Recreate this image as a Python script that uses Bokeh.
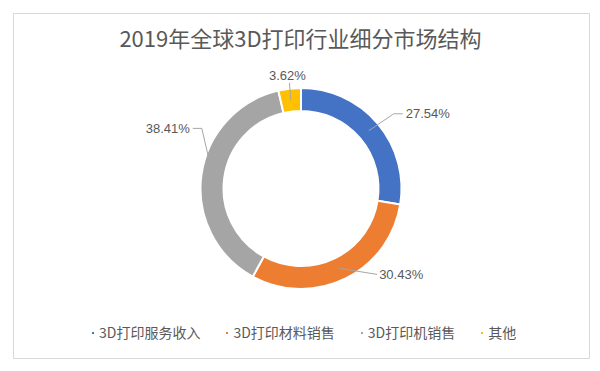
import numpy as np
from bokeh.plotting import figure
from bokeh.models import ColumnDataSource, Range1d, Legend, LegendItem
from bokeh.core.properties import value
from bokeh.embed import file_html
from bokeh.resources import INLINE

# ---------------- data ----------------
categories = ["3D打印服务收入", "3D打印材料销售", "3D打印机销售", "其他"]
shares = [27.54, 30.43, 38.41, 3.62]
colors = ["#4472C4", "#ED7D31", "#A5A5A5", "#FFC000"]
title_text = "2019年全球3D打印行业细分市场结构"

# ---------------- layout (pixels, y measured downward from page top) ----------------
W, H = 592, 363
def Y(py):                   # page pixel y -> data y (upward)
    return H - py

CX, CY = 300.5, 188.0
R_OUT, R_IN = 100.5, 77.5
R_ANCHOR = 89.0
# leader/label offsets from anchor: (elbow, end, text, align)
label_layout = [
    ((25, -17), (34, -17), (37, -17), "left", "middle"),
    ((37, 6), (37, 6), (39, 6), "left", "middle"),
    ((-11, -48), (-20, -48), (-23, -48), "right", "middle"),
    ((-1.5, -17), (-1.5, -17), (-3.5, -25), "center", "middle"),
]

p = figure(width=W, height=H, x_range=Range1d(0, W), y_range=Range1d(0, H),
           output_backend="svg", toolbar_location=None, min_border=0,
           x_axis_type=None, y_axis_type=None)
p.grid.visible = False
p.outline_line_color = None
p.background_fill_color = "white"
p.border_fill_color = "white"

# frame
p.quad(left=13, right=589, top=Y(13), bottom=Y(358), fill_color=None,
       line_color="#D9D9D9", line_width=1)

# donut
tot = float(sum(shares))
cum = np.cumsum([0.0] + list(shares)) / tot
starts = [np.pi / 2 - 2 * np.pi * cum[i] for i in range(len(shares))]
ends = [np.pi / 2 - 2 * np.pi * cum[i + 1] for i in range(len(shares))]
src = ColumnDataSource(dict(start=starts, end=ends, color=colors, cat=categories))
r = p.annular_wedge(x=CX, y=Y(CY), inner_radius=R_IN, outer_radius=R_OUT,
                    start_angle="start", end_angle="end", direction="clock",
                    fill_color="color", line_color="white", line_width=2, source=src)

# labels and leader lines
xs, ys = [], []
for i, s in enumerate(shares):
    mid = (starts[i] + ends[i]) / 2
    ax = CX + R_ANCHOR * np.cos(mid)
    ay = CY - R_ANCHOR * np.sin(mid)
    (ex, ey), (nx, ny), (lx, ly), a, b = label_layout[i]
    xs.append([ax, ax + ex, ax + nx])
    ys.append([Y(ay), Y(ay + ey), Y(ay + ny)])
    p.text(x=[ax + lx], y=[Y(ay + ly)], text=[f"{s:.2f}%"], text_align=a,
           text_baseline=b, text_font=value("Liberation Sans"),
           text_font_size="13px", text_color="#595959")
p.multi_line(xs=xs, ys=ys, line_color="#A6A6A6", line_width=1)

# title
p.text(x=[300], y=[Y(36)], text=[title_text], text_align="center", text_baseline="middle",
       text_font=value("Noto Sans CJK SC"), text_font_size="22px", text_color="#595959")

# legend
items = [LegendItem(label=c, renderers=[r], index=i) for i, c in enumerate(categories)]
legend = Legend(items=items, orientation="horizontal", location=(90, 21),
                label_text_font="Noto Sans CJK SC", label_text_font_size="14px",
                label_text_color="#595959", glyph_width=5, glyph_height=5,
                label_standoff=4, spacing=24, padding=0, margin=0,
                border_line_color=None, background_fill_alpha=0, label_height=14)
p.add_layout(legend)

open("out.html", "w").write(file_html(p, INLINE))
